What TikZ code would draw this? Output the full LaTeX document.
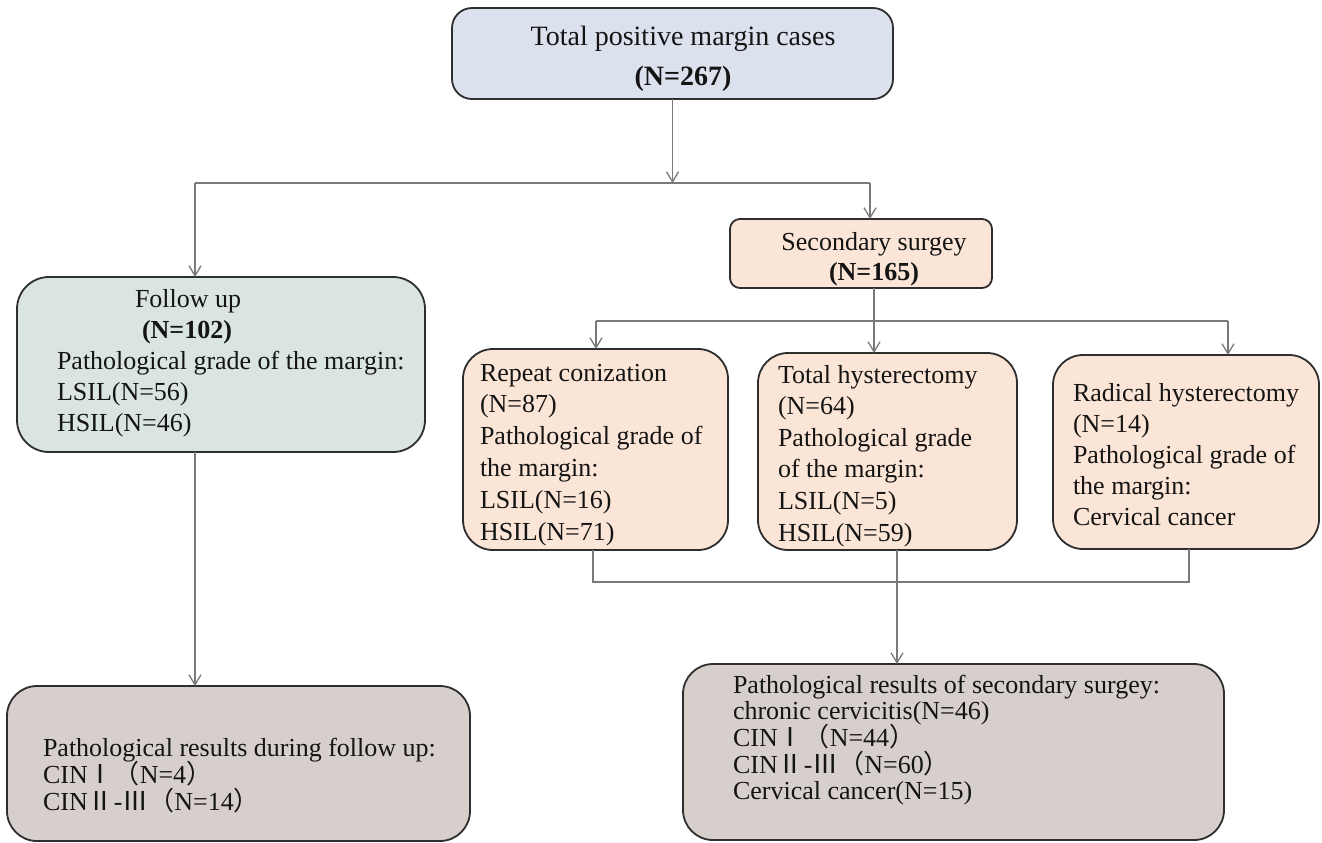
\documentclass[tikz,border=0pt]{standalone}
\usepackage{fontspec}
\setmainfont{Liberation Serif}
\newfontfamily\cjk{Noto Sans CJK SC}
\usetikzlibrary{arrows.meta}

\definecolor{topfill}{HTML}{DCE1EE}
\definecolor{peach}{HTML}{FBE5D6}
\definecolor{tealg}{HTML}{D9E4E3}
\definecolor{resg}{HTML}{D6CFCC}
\definecolor{edgec}{HTML}{2E2E2E}
\definecolor{connc}{HTML}{7A7A7A}

\newcommand{\boxlines}[3]{\fontsize{#1}{#2}\selectfont\begin{tabular}[t]{@{}l@{}}#3\end{tabular}}
\newcommand{\boxlinesc}[3]{\fontsize{#1}{#2}\selectfont\begin{tabular}[t]{@{}c@{}}#3\end{tabular}}
\newcommand{\cj}[1]{\smash{{\cjk #1}}}

\tikzset{
  box/.style={draw=edgec, line width=0.9pt, inner sep=0pt, outer sep=0pt},
  conline/.style={draw=connc, line width=0.65pt},
  arr/.style={conline, -{Straight Barb[length=5pt,width=6pt]}},
  txt/.style={inner sep=0pt, outer sep=0pt, anchor=base west, text=black!92},
}

\begin{document}
\begin{tikzpicture}[x=0.5pt,y=-0.5pt]
\useasboundingbox (0,0) rectangle (1322,842);
\fill[white] (0,0) rectangle (1322,842);

% boxes
\node[box, fill=topfill, rounded corners=10pt, minimum width=220.5pt, minimum height=45.5pt] (top) at (672.5,53.5) {};
\node[box, fill=peach, rounded corners=5pt, minimum width=131pt, minimum height=34.5pt] (sec) at (861,253.5) {};
\node[box, fill=tealg, rounded corners=16pt, minimum width=204pt, minimum height=87.5pt] (fu) at (221,364.5) {};
\node[box, fill=peach, rounded corners=15pt, minimum width=132.5pt, minimum height=100.5pt] (rc) at (595.5,449.5) {};
\node[box, fill=peach, rounded corners=15pt, minimum width=129.5pt, minimum height=98.5pt] (th) at (887.5,451.5) {};
\node[box, fill=peach, rounded corners=15pt, minimum width=133pt, minimum height=97pt] (rh) at (1186,452) {};
\node[box, fill=resg, rounded corners=15pt, minimum width=231.5pt, minimum height=77.5pt] (lres) at (238.5,763.5) {};
\node[box, fill=resg, rounded corners=15pt, minimum width=270.5pt, minimum height=88pt] (rres) at (953.5,752) {};

% texts
\node[txt, anchor=base] (toptxt) at (683,45) {\boxlinesc{14}{20}{Total positive margin cases\\\textbf{(N=267)}}};
\node[txt, anchor=base] (sectxt) at (874,250) {\boxlinesc{13}{15}{Secondary surgey\\\textbf{(N=165)}}};
\node[txt] (futxt) at (57,307) {\boxlines{13}{15.5}{\hspace*{39pt}Follow up\\\hspace*{42.5pt}\textbf{(N=102)}\\Pathological grade of the margin:\\LSIL(N=56)\\HSIL(N=46)}};
\node[txt] (rctxt) at (480,381) {\boxlines{13}{15.9}{Repeat conization\\(N=87)\\Pathological grade of\\the margin:\\LSIL(N=16)\\HSIL(N=71)}};
\node[txt] (thtxt) at (778,383) {\boxlines{13}{15.8}{Total hysterectomy\\(N=64)\\Pathological grade\\of the margin:\\LSIL(N=5)\\HSIL(N=59)}};
\node[txt] (rhtxt) at (1073,401) {\boxlines{13}{15.5}{Radical hysterectomy\\(N=14)\\Pathological grade of\\the margin:\\Cervical cancer}};
\node[txt] (lrestxt) at (43,756) {\boxlines{13}{13.5}{Pathological results during follow up:\\CIN\cj{Ⅰ（}N=4\cj{）}\\CIN\cj{Ⅱ}-\cj{Ⅲ（}N=14\cj{）}}};
\node[txt] (rrestxt) at (733,693) {\boxlines{13}{13.35}{Pathological results of secondary surgey:\\chronic cervicitis(N=46)\\CIN\cj{Ⅰ（}N=44\cj{）}\\CIN\cj{Ⅱ}-\cj{Ⅲ（}N=60\cj{）}\\Cervical cancer(N=15)}};

% connector junctions
\coordinate (j1) at (672.5,183);
\coordinate (jl) at (195,183);
\coordinate (jr) at (870,183);
\coordinate (k1) at (874,321);
\coordinate (kl) at (596,321);
\coordinate (kr) at (1228,321);
\coordinate (ml) at (593,582);
\coordinate (mr) at (1189,582);
\coordinate (mt) at (897,582);

% connectors
\draw[arr] (top.south) -- (j1);
\draw[conline] (jl) -- (jr);
\draw[arr] (jl) -- (jl |- fu.north);
\draw[arr] (jr) -- (jr |- sec.north);

\draw[arr] (sec.south -| k1) -- (k1 |- th.north);
\draw[conline] (kl) -- (kr);
\draw[arr] (kl) -- (kl |- rc.north);
\draw[arr] (kr) -- (kr |- rh.north);

\draw[conline] (ml |- rc.south) -- (ml) -- (mr) -- (mr |- rh.south);
\draw[arr] (th.south -| mt) -- (mt |- rres.north);

\draw[arr] (fu.south -| jl) -- (jl |- lres.north);
\end{tikzpicture}
\end{document}
